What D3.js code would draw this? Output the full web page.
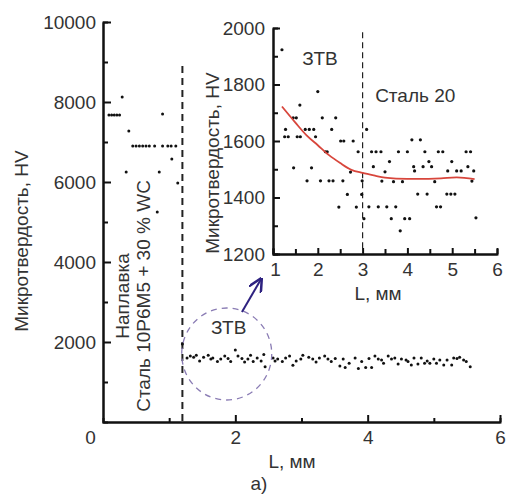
<!DOCTYPE html>
<html>
<head>
<meta charset="utf-8">
<script src="https://cdn.jsdelivr.net/npm/d3@7"></script>
<style>
  body { margin: 0; background: #fff; }
  svg text { font-family: "Liberation Sans", Arial, sans-serif; fill: #333; }
  .axis path, .axis line { stroke: #111; }
</style>
</head>
<body>
<div id="chart"></div>
<script>
/* DATA */
// main chart, clad layer (Наплавка)
const cladL  = [0.09, 0.13, 0.17, 0.21, 0.25, 0.29, 0.39, 0.35,
                0.45, 0.50, 0.55, 0.60, 0.65, 0.70, 0.78, 0.90, 0.98, 1.03, 1.10,
                0.85, 0.90, 1.04, 1.13, 0.82];
const cladHV = [7675, 7675, 7675, 7675, 7675, 8125, 7275, 6250,
                6900, 6900, 6900, 6900, 6900, 6900, 6900, 6900, 6900, 6900, 6900,
                6250, 7700, 6575, 5975, 5250];

// main chart, ЗТВ + steel band
const bandL  = [1.20, 1.27, 1.32, 1.37, 1.41, 1.46, 1.52, 1.59, 1.63, 1.66, 1.73, 1.78, 1.84, 1.89, 1.93,
                2.00, 2.04, 2.10, 2.14, 2.19, 2.23, 2.27, 2.33, 2.39, 2.43, 2.45, 2.57, 2.60, 2.64, 2.71,
                2.76, 2.82, 2.87, 2.92, 2.99, 3.02, 3.11, 3.17, 3.22, 3.27, 3.35, 3.40, 3.45, 3.51, 3.58,
                3.63, 3.66, 3.72, 3.81, 3.86, 3.91, 3.97, 4.02, 4.06, 4.11, 4.16, 4.21, 4.24, 4.31, 4.36,
                4.41, 4.46, 4.51, 4.58, 4.61, 4.66, 4.70, 4.76, 4.81, 4.86, 4.90, 4.94, 5.00, 5.04, 5.09,
                5.15, 5.20, 5.27, 5.30, 5.35, 5.39, 5.45, 5.49, 5.55];
const bandHV = [1950, 1600, 1650, 1620, 1670, 1525, 1620, 1670, 1575, 1600, 1510, 1575, 1650, 1590, 1510,
                1800, 1650, 1590, 1500, 1575, 1670, 1510, 1600, 1525, 1685, 1380, 1600, 1525, 1575, 1510,
                1600, 1650, 1420, 1525, 1575, 1670, 1620, 1575, 1500, 1600, 1650, 1575, 1510, 1590, 1400,
                1575, 1360, 1470, 1600, 1340, 1510, 1360, 1590, 1360, 1650, 1575, 1550, 1470, 1650, 1575,
                1600, 1450, 1575, 1550, 1510, 1425, 1600, 1450, 1600, 1470, 1525, 1470, 1575, 1470, 1550,
                1425, 1550, 1425, 1600, 1590, 1620, 1550, 1510, 1380];

// inset (ЗТВ zoom)
const insetL  = [1.20, 1.28, 1.26, 1.34, 1.45, 1.52, 1.60, 1.54, 1.61, 1.46, 1.72, 1.81, 1.91, 1.76, 1.86,
                 1.95, 2.00, 2.10, 2.06, 2.17, 2.21, 2.25, 2.34, 2.31, 2.40, 2.51, 2.58, 2.56, 2.47, 2.66,
                 2.73, 2.79, 2.86, 2.90, 2.99, 2.98, 3.03, 3.09, 3.20, 3.30, 3.41, 3.24, 3.50, 3.60, 3.43,
                 3.69, 3.89, 3.80, 4.00, 4.10, 4.29, 4.14, 4.16, 4.35, 4.39, 4.48, 4.54, 4.61, 4.69, 4.79,
                 4.23, 4.44, 4.65, 4.74, 4.88, 4.97, 5.06, 4.90, 4.99, 5.10, 5.20, 5.31, 5.41, 5.35, 5.48,
                 5.44, 5.53, 3.14, 3.35, 3.54, 3.74, 3.64, 3.94, 4.05, 3.84];
const insetHV = [1923, 1641, 1615, 1615, 1682, 1682, 1727, 1615, 1615, 1505, 1641, 1641, 1641, 1459, 1505,
                 1615, 1775, 1682, 1459, 1562, 1562, 1459, 1459, 1641, 1682, 1600, 1600, 1459, 1366, 1411,
                 1490, 1600, 1366, 1562, 1459, 1411, 1325, 1641, 1562, 1562, 1562, 1509, 1491, 1527, 1458,
                 1456, 1456, 1562, 1562, 1604, 1604, 1509, 1494, 1509, 1562, 1527, 1509, 1456, 1562, 1562,
                 1412, 1412, 1367, 1367, 1412, 1412, 1412, 1494, 1527, 1494, 1494, 1562, 1562, 1509, 1494,
                 1458, 1328, 1367, 1367, 1367, 1367, 1325, 1325, 1325, 1282];

// red trend line in inset
const fitL  = [1.20, 1.50, 1.75, 2.00, 2.25, 2.50, 2.75, 3.00, 3.25, 3.50, 3.75, 4.25, 4.75, 5.10, 5.50];
const fitHV = [1722, 1665, 1620, 1585, 1550, 1522, 1498, 1487, 1478, 1470, 1467, 1466, 1468, 1471, 1465];

// boundaries, ticks
const mainBoundary = 1.2;
const insetBoundary = 3.0;
const mainXTicks = [0, 2, 4, 6];
const mainYTicks = [2000, 4000, 6000, 8000, 10000];
const insetXTicks = [1, 2, 3, 4, 5, 6];
const insetYTicks = [1200, 1400, 1600, 1800, 2000];

/* LAYOUT */
const width = 508, height = 494, fs = 19;
const fmt = d3.format("d");

const svg = d3.select("#chart").append("svg")
  .attr("width", width)
  .attr("height", height);

// scales
const x = d3.scaleLinear().domain([0, 6]).range([103, 500]);
const y = d3.scaleLinear().domain([0, 10000]).range([422, 22]);
const xi = d3.scaleLinear().domain([1, 6]).range([273, 497]);
const yi = d3.scaleLinear().domain([1200, 2000]).range([254, 28]);

function styleAxis(g) {
  g.attr("class", "axis");
  g.select(".domain").attr("stroke-width", 2);
  g.selectAll(".tick line").attr("stroke-width", 2);
  g.selectAll("text").attr("font-size", fs).attr("fill", "#333");
}

/* MAIN AXES */
// minor ticks first
svg.append("g")
  .attr("transform", `translate(0,${y(0)})`)
  .call(d3.axisBottom(x).tickValues([1, 3, 5]).tickSize(-4).tickFormat(""))
  .call(styleAxis);
svg.append("g")
  .attr("transform", `translate(${x(0)},0)`)
  .call(d3.axisLeft(y).tickValues([1000, 3000, 5000, 7000, 9000]).tickSize(-5).tickFormat(""))
  .call(styleAxis);

const gx = svg.append("g")
  .attr("transform", `translate(0,${y(0)})`)
  .call(d3.axisBottom(x).tickValues(mainXTicks).tickFormat(fmt).tickSize(-7).tickPadding(9).tickSizeOuter(0))
  .call(styleAxis);
gx.selectAll(".tick").filter(d => d === 0).select("line").remove();
gx.selectAll(".tick").filter(d => d === 0).select("text").attr("dx", -13);

svg.append("g")
  .attr("transform", `translate(${x(0)},0)`)
  .call(d3.axisLeft(y).tickValues(mainYTicks).tickFormat(fmt).tickSize(-8).tickPadding(7).tickSizeOuter(0))
  .call(styleAxis);

svg.append("text")
  .attr("x", 292).attr("y", 468)
  .attr("text-anchor", "middle").attr("font-size", fs)
  .text("L, мм");
svg.append("text")
  .attr("x", 259).attr("y", 490)
  .attr("text-anchor", "middle").attr("font-size", fs)
  .text("а)");
svg.append("text")
  .attr("transform", `translate(28,241) rotate(-90)`)
  .attr("text-anchor", "middle").attr("font-size", fs)
  .text("Микротвердость, HV");

// rotated region labels
svg.append("text")
  .attr("transform", `translate(129,296) rotate(-90)`)
  .attr("text-anchor", "middle").attr("font-size", fs)
  .text("Наплавка");
svg.append("text")
  .attr("transform", `translate(150,296) rotate(-90)`)
  .attr("text-anchor", "middle").attr("font-size", fs)
  .text("Сталь 10Р6М5 + 30 % WC");

// boundary line
svg.append("line")
  .attr("x1", x(mainBoundary)).attr("x2", x(mainBoundary))
  .attr("y1", y(8900)).attr("y2", y(0))
  .attr("stroke", "#222").attr("stroke-width", 2)
  .attr("stroke-dasharray", "7,5");

// points
const cladData = cladL.map((d, i) => ({ L: d, hv: cladHV[i] }));
const bandData = bandL.map((d, i) => ({ L: d, hv: bandHV[i] }));

svg.selectAll("circle.clad")
  .data(cladData)
  .join("circle")
  .attr("class", "clad")
  .attr("cx", d => x(d.L))
  .attr("cy", d => y(d.hv))
  .attr("r", 1.5)
  .attr("fill", "#111");

svg.selectAll("circle.band")
  .data(bandData)
  .join("circle")
  .attr("class", "band")
  .attr("cx", d => x(d.L))
  .attr("cy", d => y(d.hv))
  .attr("r", 1.5)
  .attr("fill", "#111");

// dashed circle around ЗТВ and arrow to inset
svg.append("ellipse")
  .attr("cx", x(1.87)).attr("cy", y(1700))
  .attr("rx", 45).attr("ry", 46)
  .attr("fill", "none")
  .attr("stroke", "#8a7cb4").attr("stroke-width", 1.3)
  .attr("stroke-dasharray", "6,5");

svg.append("text")
  .attr("x", x(1.9)).attr("y", y(2200))
  .attr("text-anchor", "middle").attr("font-size", fs)
  .text("ЗТВ");

svg.append("defs").append("marker")
  .attr("id", "arrow")
  .attr("viewBox", "0 0 10 10")
  .attr("refX", 9).attr("refY", 5)
  .attr("markerWidth", 7).attr("markerHeight", 7)
  .attr("orient", "auto")
  .append("path")
  .attr("d", "M0,0 L10,5 L0,10")
  .attr("fill", "none")
  .attr("stroke", "#2e2280").attr("stroke-width", 1.8);

svg.append("line")
  .attr("x1", x(2.1)).attr("y1", y(2750))
  .attr("x2", x(2.39)).attr("y2", y(3575))
  .attr("stroke", "#2e2280").attr("stroke-width", 2)
  .attr("marker-end", "url(#arrow)");

/* INSET */
const inset = svg.append("g");

inset.append("g")
  .attr("transform", `translate(0,${yi(1200)})`)
  .call(d3.axisBottom(xi).tickValues([1.5, 2.5, 3.5, 4.5, 5.5]).tickSize(-5).tickFormat(""))
  .call(styleAxis);
inset.append("g")
  .attr("transform", `translate(${xi(1)},0)`)
  .call(d3.axisLeft(yi).tickValues([1300, 1500, 1700, 1900]).tickSize(-5).tickFormat(""))
  .call(styleAxis);

const gxi = inset.append("g")
  .attr("transform", `translate(0,${yi(1200)})`)
  .call(d3.axisBottom(xi).tickValues(insetXTicks).tickFormat(fmt).tickSize(-6).tickPadding(9).tickSizeOuter(0))
  .call(styleAxis);
gxi.selectAll(".tick").filter(d => d === 1).select("text").attr("dx", 2);

inset.append("g")
  .attr("transform", `translate(${xi(1)},0)`)
  .call(d3.axisLeft(yi).tickValues(insetYTicks).tickFormat(fmt).tickSize(-7).tickPadding(8).tickSizeOuter(0))
  .call(styleAxis);

inset.append("text")
  .attr("x", 378).attr("y", 300)
  .attr("text-anchor", "middle").attr("font-size", fs)
  .text("L, мм");
inset.append("text")
  .attr("transform", `translate(219,163) rotate(-90)`)
  .attr("text-anchor", "middle").attr("font-size", fs)
  .text("Микротвердость, HV");

inset.append("line")
  .attr("x1", xi(insetBoundary)).attr("x2", xi(insetBoundary))
  .attr("y1", yi(1985)).attr("y2", yi(1200))
  .attr("stroke", "#222").attr("stroke-width", 1.2)
  .attr("stroke-dasharray", "6,4");

inset.append("text")
  .attr("x", xi(2.05)).attr("y", yi(1869))
  .attr("text-anchor", "middle").attr("font-size", fs)
  .text("ЗТВ");
inset.append("text")
  .attr("x", xi(3.28)).attr("y", yi(1738))
  .attr("font-size", fs)
  .text("Сталь 20");

const insetData = insetL.map((d, i) => ({ L: d, hv: insetHV[i] }));
inset.selectAll("circle")
  .data(insetData)
  .join("circle")
  .attr("cx", d => xi(d.L))
  .attr("cy", d => yi(d.hv))
  .attr("r", 1.6)
  .attr("fill", "#111");

const fitData = fitL.map((d, i) => ({ L: d, hv: fitHV[i] }));
const lineFunc = d3.line()
  .x(d => xi(d.L))
  .y(d => yi(d.hv))
  .curve(d3.curveMonotoneX);

inset.append("path")
  .datum(fitData)
  .attr("d", lineFunc)
  .attr("fill", "none")
  .attr("stroke", "#d8463c")
  .attr("stroke-width", 1.8);
</script>
</body>
</html>
